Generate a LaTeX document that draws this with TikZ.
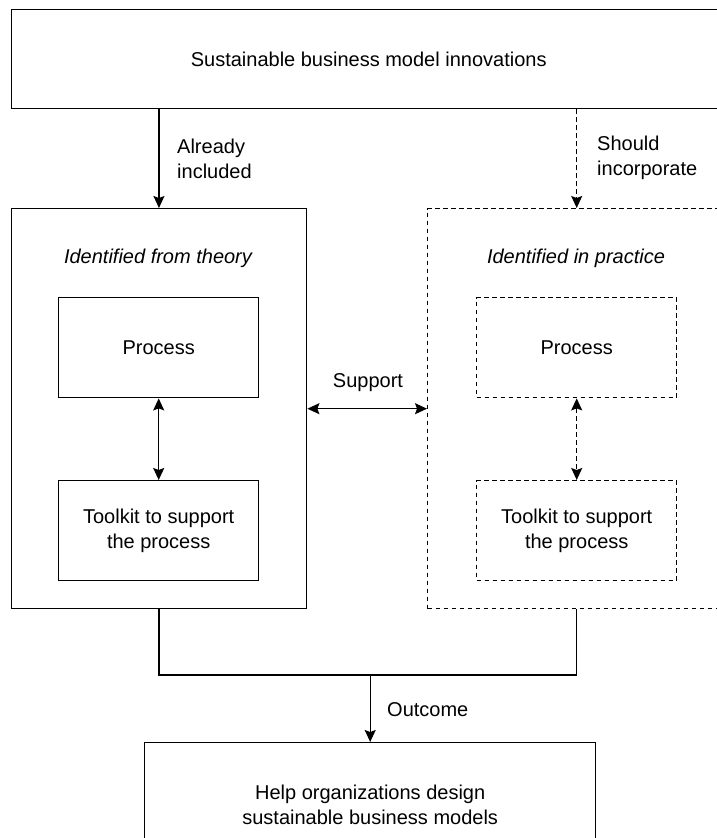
\documentclass[tikz,border=0pt]{standalone}
\usepackage{fontspec}
\setmainfont{Liberation Sans}
\usetikzlibrary{arrows.meta}
\begin{document}
\begin{tikzpicture}[x=1pt,y=-1pt,
  base/.style={line width=1.4pt},
  txt/.style={font=\fontsize{20}{25}\selectfont},
  box/.style={draw, base, txt, rectangle, inner sep=0pt, anchor=north west, align=center},
  dbox/.style={box, dash pattern=on 4.5pt off 3.5pt},
  lbl/.style={txt, inner sep=0pt, align=left},
  ttl/.style={inner sep=0pt, font=\fontsize{20}{25}\selectfont\itshape},
  arr/.style={base, -{Stealth[length=12pt,width=11pt,inset=2pt]}},
  darr/.style={arr, dash pattern=on 4.5pt off 3.5pt},
  barr/.style={base, {Stealth[length=12pt,width=11pt,inset=2pt]}-{Stealth[length=12pt,width=11pt,inset=2pt]}},
  dbarr/.style={barr, dash pattern=on 4.5pt off 3.5pt}
]
\useasboundingbox (0,0) rectangle (717,838);
\clip (0,0) rectangle (717,838);
\fill[white] (0,0) rectangle (717,838);

\node[box, minimum width=715pt, minimum height=99.5pt] (top) at (10.5,8.5) {Sustainable business model innovations};

\node[box, minimum width=295.5pt, minimum height=400pt] (left) at (10.5,208) {};
\node[dbox, minimum width=298pt, minimum height=400pt] (right) at (427,208) {};

\node[ttl] (ltitle) at (158,258) {Identified from theory};
\node[ttl] (rtitle) at (576,258) {Identified in practice};

\node[box, minimum width=200pt, minimum height=100pt] (lp) at (58,297) {Process};
\node[box, minimum width=200pt, minimum height=100pt] (lt) at (58,480) {Toolkit to support\\the process};
\node[dbox, minimum width=200pt, minimum height=100pt] (rp) at (476,297) {Process};
\node[dbox, minimum width=200pt, minimum height=100pt] (rt) at (476,480) {Toolkit to support\\the process};

\node[box, minimum width=451pt, minimum height=124pt] (bot) at (144,742) {Help organizations design\\sustainable business models};

\node[lbl, anchor=west] (lal) at (177,159) {Already\\included};
\node[lbl, anchor=west] (lsh) at (597,158) {Should\\incorporate};
\node[lbl] (lsup) at (368,383) {Support};
\node[lbl, anchor=west] (lout) at (387,710) {Outcome};

\draw[arr] (top.south -| left.north) -- (left.north);
\draw[darr] (top.south -| right.north) -- (right.north);
\draw[barr] (left.east) -- (right.west);
\draw[barr] (lp.south) -- (lt.north);
\draw[dbarr] (rp.south) -- (rt.north);

\coordinate (j) at (369.5,675);
\draw[base] (left.south) |- (right.south |- j) -- (right.south);
\draw[arr] (j -| bot.north) -- (bot.north);
\end{tikzpicture}
\end{document}
